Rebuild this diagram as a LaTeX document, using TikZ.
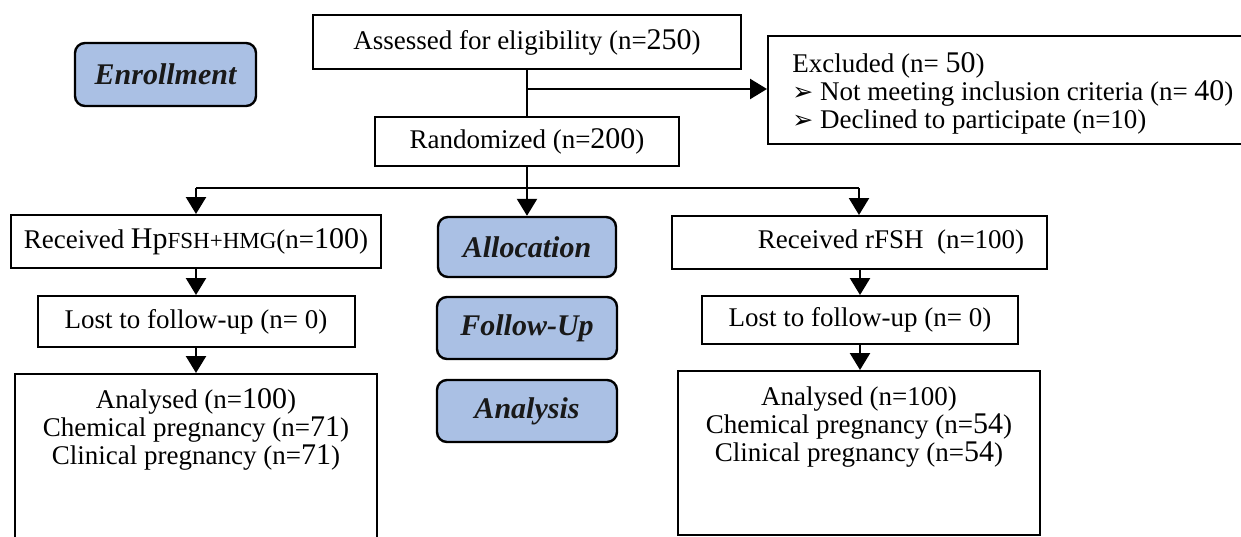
\documentclass[tikz,border=0pt]{standalone}
\usepackage{fontspec}
\setmainfont{Liberation Serif}
\newfontfamily\symfont{DejaVu Sans}
\usetikzlibrary{arrows.meta}
\definecolor{lblue}{RGB}{170,192,228}
\newcommand{\Num}[1]{{\fontsize{15}{14}\selectfont #1}}
\newcommand{\Bul}{{\symfont\fontsize{12.5}{14}\selectfont ➢}}
\begin{document}
\begin{tikzpicture}[x=0.5pt,y=-0.5pt,
  box/.style={draw, line width=1pt, fill=white, inner sep=0pt, font=\fontsize{13.5}{14}\selectfont},
  phase/.style={draw, line width=1.2pt, fill=lblue, rounded corners=5pt, inner sep=0pt, text=black!90, font=\fontsize{15}{15}\selectfont\bfseries\itshape},
  txt/.style={inner sep=0pt, font=\fontsize{13.5}{14}\selectfont, align=center},
  conn/.style={line width=1.2pt},
  arr/.style={conn, -{Triangle[width=10pt,length=8.5pt]}}]
\useasboundingbox (0,0) rectangle (1241,536);
\clip (0,0) rectangle (1241,536);
\fill[white] (0,0) rectangle (1241,536);

% phase labels
\node[phase, minimum width=90.5pt, minimum height=31.5pt] (enroll) at (165.5,74.5) {Enrollment};
\node[phase, minimum width=89pt, minimum height=30pt] (alloc) at (527,247) {Allocation};
\node[phase, minimum width=90pt, minimum height=31pt] (follow) at (527,328) {Follow-Up};
\node[phase, minimum width=90pt, minimum height=31pt] (analysis) at (527,411) {Analysis};

% top boxes
\node[box, minimum width=214pt, minimum height=27pt] (assess) at (527,42) {Assessed for eligibility (n=\Num{250})};
\node[box, minimum width=246pt, minimum height=54pt] (excl) at (1014,90) {};
\node[txt, align=left, anchor=north west] (excltxt) at (792,52)
  {Excluded (n= \Num{50})\\ \Bul\ Not meeting inclusion criteria (n= \Num{40})\\ \Bul\ Declined to participate (n=10)};
\node[box, minimum width=152pt, minimum height=24.5pt] (rand) at (527,141.5) {Randomized (n=\Num{200})};

% left arm
\node[box, minimum width=185pt, minimum height=26.5pt] (recL) at (196,241.5)
  {Received {\fontsize{15}{14}\selectfont Hp}{\fontsize{11.5}{14}\selectfont FSH+HMG}(n=\Num{100})};
\node[box, minimum width=158.5pt, minimum height=25.5pt] (lostL) at (196,321.5) {Lost to follow-up (n= 0)};
\node[box, minimum width=181pt, minimum height=85.5pt] (anaL) at (196,459.5) {};
\node[txt, anchor=north] (anaLtxt) at (196,388)
  {Analysed (n=\Num{100})\\ Chemical pregnancy (n=\Num{71})\\ Clinical pregnancy (n=\Num{71})};

% right arm
\node[box, minimum width=187.5pt, minimum height=26.5pt] (recR) at (859,242.5) {};
\node[txt] (recRtxt) at (891,242.5) {Received rFSH\ \ (n=100)};
\node[box, minimum width=158pt, minimum height=24pt] (lostR) at (860,320) {Lost to follow-up (n= 0)};
\node[box, minimum width=181pt, minimum height=82pt] (anaR) at (859,453) {};
\node[txt, anchor=north] (anaRtxt) at (859,386)
  {Analysed (n=100)\\ Chemical pregnancy (n=\Num{54})\\ Clinical pregnancy (n=\Num{54})};

% connectors
\coordinate (j1) at (527,89);
\coordinate (bL) at (196,188);
\coordinate (bR) at (859,188);
\draw[conn] (assess.south) -- (rand.north);
\draw[arr] (j1) -- (excl.west |- j1);
\draw[arr] (rand.south) -- (alloc.north);
\draw[conn] (bL) -- (bR);
\draw[arr] (bL) -- (recL.north);
\draw[arr] (bR) -- (recR.north);
\draw[arr] (recL.south) -- (lostL.north);
\draw[arr] (lostL.south) -- (anaL.north);
\draw[arr] (recR.south -| lostR.north) -- (lostR.north);
\draw[arr] (lostR.south) -- (anaR.north -| lostR.south);
\end{tikzpicture}
\end{document}
